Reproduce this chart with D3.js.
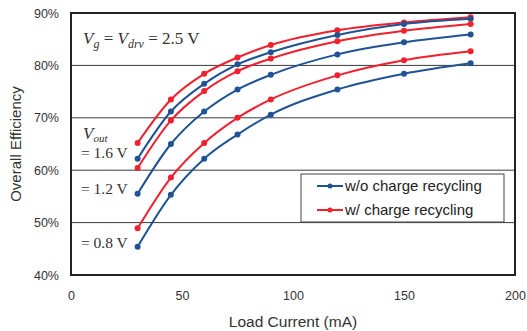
<!DOCTYPE html>
<html>
<head>
<meta charset="utf-8">
<script src="https://cdn.jsdelivr.net/npm/d3@7"></script>
<style>
  body { margin: 0; background: #fff; }
  text { font-family: "Liberation Sans", Arial, sans-serif; }
  .serif { font-family: "Liberation Serif", "Times New Roman", serif; fill: #333; }
</style>
</head>
<body>
<div id="vis"></div>
<script>
// load current (mA)
const loads = [30, 45, 60, 75, 90, 120, 150, 180]

// efficiency (%) without charge recycling
const woVout08 = [45.4, 55.3, 62.2, 66.8, 70.6, 75.4, 78.4, 80.4]
const woVout12 = [55.5, 65.0, 71.2, 75.4, 78.2, 82.1, 84.4, 85.9]
const woVout16 = [62.2, 71.2, 76.5, 80.2, 82.5, 85.8, 87.9, 88.9]

// efficiency (%) with charge recycling
const wVout08 = [48.9, 58.6, 65.2, 70.0, 73.5, 78.1, 81.0, 82.7]
const wVout12 = [60.4, 69.5, 75.1, 78.9, 81.3, 84.6, 86.6, 87.9]
const wVout16 = [65.2, 73.5, 78.4, 81.5, 83.9, 86.7, 88.2, 89.2]

const xTicks = [0, 50, 100, 150, 200]
const yTicks = [40, 50, 60, 70, 80, 90]
const voutLabels = ['= 1.6 V', '= 1.2 V', '= 0.8 V']
const legendLabels = ['w/o charge recycling', 'w/ charge recycling']

const width = 527, height = 331
const margin = { left: 71, right: 12, top: 13, bottom: 56 }
const blue = '#1f5394', red = '#f0202e'

const svg = d3.select('#vis').append('svg')
  .attr('width', width)
  .attr('height', height)

const x = d3.scaleLinear().domain([0, 200]).range([margin.left, width - margin.right])
const y = d3.scaleLinear().domain([40, 90]).range([height - margin.bottom, margin.top])

// gridlines
svg.append('g').selectAll('line')
  .data(yTicks.slice(1, -1))
  .enter().append('line')
  .attr('x1', x(0)).attr('x2', x(200))
  .attr('y1', d => y(d)).attr('y2', d => y(d))
  .attr('stroke', '#3a3a3a').attr('stroke-width', 1)

// axes (labels only, frame drawn separately)
const xAxis = svg.append('g')
  .attr('transform', `translate(0,${y(40)})`)
  .call(d3.axisBottom(x).tickValues(xTicks).tickSize(0).tickPadding(16))
xAxis.select('.domain').remove()
xAxis.selectAll('text').attr('font-size', 12.5).attr('fill', '#333')
  .attr('font-family', '"Liberation Sans", Arial, sans-serif')

const yAxis = svg.append('g')
  .attr('transform', `translate(${x(0)},0)`)
  .call(d3.axisLeft(y).tickValues(yTicks).tickSize(0).tickPadding(12).tickFormat(d => d + '%'))
yAxis.select('.domain').remove()
yAxis.selectAll('text').attr('font-size', 12.5).attr('fill', '#333')
  .attr('font-family', '"Liberation Sans", Arial, sans-serif')

// frame
svg.append('rect')
  .attr('x', x(0)).attr('y', y(90))
  .attr('width', x(200) - x(0)).attr('height', y(40) - y(90))
  .attr('fill', 'none').attr('stroke', '#222').attr('stroke-width', 2)

// axis titles
svg.append('text')
  .attr('x', (x(0) + x(200)) / 2).attr('y', 327)
  .attr('text-anchor', 'middle').attr('font-size', 15.5).attr('fill', '#333')
  .text('Load Current (mA)')

svg.append('text')
  .attr('transform', `translate(21,${(y(40) + y(90)) / 2}) rotate(-90)`)
  .attr('text-anchor', 'middle').attr('font-size', 15).attr('fill', '#333')
  .text('Overall Efficiency')

// series
const series = [
  { values: wVout16, color: red },
  { values: woVout16, color: blue },
  { values: wVout12, color: red },
  { values: woVout12, color: blue },
  { values: wVout08, color: red },
  { values: woVout08, color: blue }
]

const line = d3.line()
  .x((d, i) => x(loads[i]))
  .y(d => y(d))
  .curve(d3.curveMonotoneX)

const seriesGroup = svg.append('g')
seriesGroup.selectAll('path')
  .data(series)
  .enter().append('path')
  .attr('d', s => line(s.values))
  .attr('fill', 'none')
  .attr('stroke', s => s.color)
  .attr('stroke-width', 2)

series.forEach(s => {
  seriesGroup.append('g').selectAll('circle')
    .data(s.values)
    .enter().append('circle')
    .attr('cx', (d, i) => x(loads[i]))
    .attr('cy', d => y(d))
    .attr('r', 3)
    .attr('fill', s.color)
})

// annotations
const vg = svg.append('text').attr('class', 'serif')
  .attr('x', 83).attr('y', 44).attr('font-size', 17)
vg.append('tspan').attr('font-style', 'italic').text('V')
vg.append('tspan').attr('font-style', 'italic').attr('font-size', 12).attr('dy', 4).text('g')
vg.append('tspan').attr('dy', -4).text(' = ')
vg.append('tspan').attr('font-style', 'italic').text('V')
vg.append('tspan').attr('font-style', 'italic').attr('font-size', 12).attr('dy', 4).text('drv')
vg.append('tspan').attr('dy', -4).text(' = 2.5 V')

const vout = svg.append('text').attr('class', 'serif')
  .attr('x', 83).attr('y', 139).attr('font-size', 17)
vout.append('tspan').attr('font-style', 'italic').text('V')
vout.append('tspan').attr('font-style', 'italic').attr('font-size', 11).attr('dy', 3).text('out')

svg.append('g').selectAll('text')
  .data(voutLabels)
  .enter().append('text')
  .attr('class', 'serif')
  .attr('x', 81)
  .attr('y', (d, i) => [158, 194, 248][i])
  .attr('font-size', 15.5)
  .text(d => d)

// legend
const legend = svg.append('g').attr('transform', 'translate(301,174)')
legend.append('rect')
  .attr('width', 203).attr('height', 48)
  .attr('fill', '#fff').attr('stroke', '#444').attr('stroke-width', 1)

const legendItems = legend.selectAll('.item')
  .data(legendLabels)
  .enter().append('g')
  .attr('class', 'item')
  .attr('transform', (d, i) => `translate(0,${12 + i * 24})`)

legendItems.append('line')
  .attr('x1', 16).attr('x2', 42)
  .attr('stroke', (d, i) => i === 0 ? blue : red)
  .attr('stroke-width', 2)
legendItems.append('circle')
  .attr('cx', 29).attr('r', 2.5)
  .attr('fill', (d, i) => i === 0 ? blue : red)
legendItems.append('text')
  .attr('x', 44).attr('dy', '0.35em')
  .attr('font-size', 15).attr('fill', '#222')
  .text(d => d)
</script>
</body>
</html>
